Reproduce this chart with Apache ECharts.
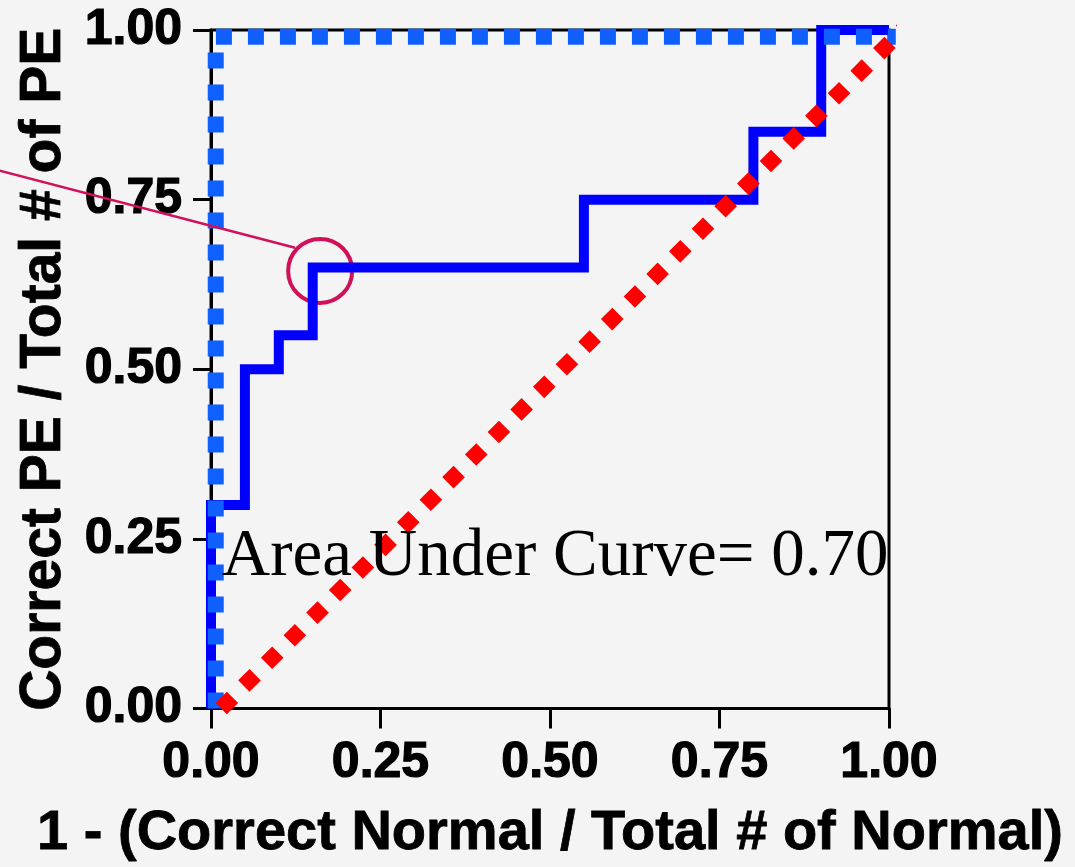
<!DOCTYPE html>
<html><head><meta charset="utf-8">
<script src="https://cdn.jsdelivr.net/npm/echarts@6/dist/echarts.min.js"></script>
<style>html,body{margin:0;padding:0;background:#f4f4f4}#c{width:1075px;height:867px}</style>
</head><body><div id="c"></div><script>
// Tick labels
const xTickLabels = ['0.00','0.25','0.50','0.75','1.00'];
const yTickLabels = ['0.00','0.25','0.50','0.75','1.00'];
// ROC curve (step: horizontal then vertical)
const rocFpr = [0, 0, 0.05, 0.10, 0.15, 0.55, 0.80, 0.90, 1.00];
const rocTpr = [0, 0.30, 0.50, 0.55, 0.65, 0.75, 0.85, 1.00, 1.00];
// Perfect classifier (dotted blue)
const perfectX = [0.007, 0.007, 1.01];
const perfectY = [0, 0.99, 0.99];
// Chance line (red diamonds)
const chanceX = [0.015, 1.025];
const chanceY = [0, 1.005];
// Annotation
const highlightPoint = [0.161, 0.645];
const pointerX = [-0.32, 0.124];
const pointerY = [0.795, 0.679];
const aucText = 'Area Under Curve= 0.70';
const aucTextAnchor = [0.016, 0.2725];

const zip = (a, b) => a.map((v, i) => [v, b[i]]);
const chart = echarts.init(document.getElementById('c'), null, {renderer: 'canvas'});
const FONT = '"Liberation Sans", Arial, sans-serif';
const tickLabelStyle = {fontFamily: FONT, fontWeight: 'bold', fontSize: 50, color: '#000',
  textBorderColor: '#000', textBorderWidth: 1.2};
chart.setOption({
  backgroundColor: '#f4f4f4',
  animation: false,
  grid: {left: 211, right: 186, top: 30, bottom: 158, show: true, borderColor: '#000', borderWidth: 3, backgroundColor: 'transparent'},
  xAxis: {
    type: 'value', min: 0, max: 1, interval: 0.25,
    name: '1 - (Correct Normal / Total # of Normal)', nameLocation: 'middle', nameGap: 97,
    nameTextStyle: {fontFamily: FONT, fontWeight: 'bold', fontSize: 56, color: '#000', textBorderColor: '#000', textBorderWidth: 0.8},
    axisLine: {show: true, lineStyle: {color: '#000', width: 3}},
    axisTick: {show: true, length: 20, lineStyle: {color: '#000', width: 3}},
    axisLabel: Object.assign({margin: 30, formatter: v => xTickLabels[Math.round(v / 0.25)]}, tickLabelStyle),
    splitLine: {show: false}
  },
  yAxis: {
    type: 'value', min: 0, max: 1, interval: 0.25,
    name: 'Correct PE / Total # of PE', nameLocation: 'middle', nameGap: 136, nameRotate: 90,
    nameTextStyle: {fontFamily: FONT, fontWeight: 'bold', fontSize: 57, color: '#000', textBorderColor: '#000', textBorderWidth: 0.8},
    axisLine: {show: true, lineStyle: {color: '#000', width: 3}},
    axisTick: {show: true, length: 18, lineStyle: {color: '#000', width: 3}},
    axisLabel: Object.assign({margin: 29, formatter: v => yTickLabels[Math.round(v / 0.25)]}, tickLabelStyle),
    splitLine: {show: false}
  },
  series: [
    {type: 'line', data: zip(rocFpr, rocTpr), step: 'end', symbol: 'none', silent: true,
      lineStyle: {color: '#0000ff', width: 10, join: 'miter'}},
    {type: 'line', data: zip(perfectX, perfectY), symbol: 'none', silent: true, clip: false,
      lineStyle: {color: '#1060ff', width: 16, type: [16, 16], cap: 'butt', join: 'miter'}},
    {type: 'line', data: zip(chanceX, chanceY), symbol: 'none', silent: true, clip: false,
      lineStyle: {color: '#ff0000', width: 16, type: [16, 16], cap: 'butt'}},
    {type: 'scatter', data: [highlightPoint], symbol: 'circle', symbolSize: 64, silent: true,
      itemStyle: {color: 'rgba(0,0,0,0)', borderColor: '#d1105a', borderWidth: 4, opacity: 1}}
  ]
});
const p0 = chart.convertToPixel({gridIndex: 0}, [pointerX[0], pointerY[0]]);
const p1 = chart.convertToPixel({gridIndex: 0}, [pointerX[1], pointerY[1]]);
const txtPos = chart.convertToPixel({gridIndex: 0}, aucTextAnchor);
chart.setOption({
  graphic: [
    {type: 'line', silent: true, z: 10,
      shape: {x1: p0[0], y1: p0[1], x2: p1[0], y2: p1[1]},
      style: {stroke: '#d1105a', lineWidth: 2.5}},
    {type: 'text', x: txtPos[0], y: txtPos[1], silent: true, z: 10,
      style: {text: aucText, fontFamily: '"Liberation Serif", "Times New Roman", serif', fontSize: 67, fill: '#000',
        verticalAlign: 'top'}}
  ]
});
</script></body></html>
